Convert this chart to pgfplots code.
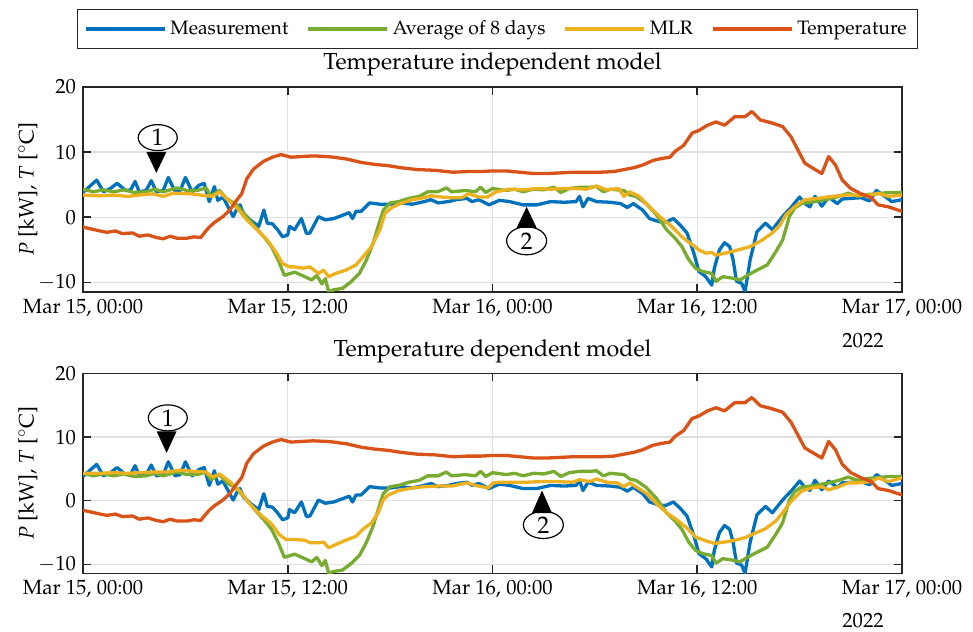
\documentclass[border=0pt]{standalone}
\usepackage[T1]{fontenc}
\usepackage{mathpazo}
\usepackage{pgfplots}
\usepackage{pgfplotstable}
\pgfplotsset{compat=1.18}

\definecolor{mblue}{RGB}{0,114,189}
\definecolor{mred}{RGB}{217,83,25}
\definecolor{myellow}{RGB}{237,177,32}
\definecolor{mgreen}{RGB}{119,172,48}

% hours after Mar 15, 00:00 ; power in kW
\pgfplotstableread{
h y
0.0 3.8
0.8 5.7
1.2 3.9
1.6 4.4
2.0 5.2
2.5 4.1
2.8 4.2
3.05 5.5
3.3 3.9
3.7 4.1
4.0 5.6
4.3 3.9
4.7 4.1
5.0 6.1
5.4 3.9
5.7 4.1
6.0 6.1
6.4 3.9
6.8 4.9
7.1 5.2
7.4 2.4
7.7 4.7
7.9 2.6
8.2 3.1
8.5 1.6
8.8 0.1
9.0 1.2
9.2 1.9
9.4 0.6
9.8 -0.4
10.3 -1.4
10.6 1.1
10.8 -0.9
11.1 -1.0
11.4 -1.9
11.7 -3.0
12.0 -2.7
12.1 -1.4
12.4 -1.9
12.8 -0.2
13.1 -2.5
13.3 -2.4
13.8 0.1
14.2 -0.4
14.7 -0.2
15.3 0.4
15.6 0.7
15.8 -0.2
16.0 0.9
16.3 0.9
16.8 2.2
17.4 2.0
18.0 2.0
18.6 2.2
19.3 2.0
20.0 2.4
20.4 2.7
20.8 2.2
21.4 2.4
21.9 2.7
22.5 2.9
22.8 2.4
23.2 2.7
23.8 1.9
24.4 2.6
25.0 2.4
25.8 1.9
26.6 1.9
27.4 2.4
28.2 2.3
28.9 2.4
29.1 3.2
29.3 1.6
29.6 2.9
30.1 2.4
30.9 2.3
31.5 2.1
31.9 1.5
32.25 2.1
32.8 1.1
33.2 -0.2
33.8 -0.7
34.2 -0.7
34.6 -0.2
35.0 -1.2
35.4 -2.4
35.8 -5.5
36.1 -8.3
36.5 -9.1
36.85 -10.4
37.0 -7.8
37.3 -5.0
37.6 -3.9
37.9 -4.5
38.1 -6.5
38.3 -9.8
38.6 -10.1
38.8 -11.4
39.1 -6.5
39.5 -2.2
40.0 -0.9
40.4 -1.9
40.85 -0.4
41.1 0.4
41.5 1.5
42.0 3.1
42.3 2.1
42.6 1.6
42.9 3.2
43.3 1.7
43.7 3.1
44.2 2.1
44.5 2.8
45.05 2.9
45.6 3.0
46.1 2.5
46.5 4.1
47.0 3.2
47.4 2.4
48.0 2.7
}\measurement

\pgfplotstableread{
h y
0.0 4.3
0.6 3.9
1.2 4.2
1.8 3.9
2.4 4.2
3.0 3.8
3.7 3.9
4.2 4.3
4.7 3.9
5.5 4.5
6.1 4.1
6.7 4.1
7.2 4.5
7.5 3.3
8.0 4.1
8.4 2.9
9.0 1.9
9.5 0.4
10.0 -1.2
10.6 -3.0
11.05 -4.5
11.45 -6.6
11.8 -8.9
12.4 -8.4
13.0 -9.1
13.4 -9.6
13.7 -8.9
14.0 -10.2
14.2 -9.4
14.4 -11.4
14.7 -11.1
15.2 -10.9
15.7 -9.9
16.2 -8.6
16.6 -6.6
17.0 -4.0
17.3 -1.4
17.6 1.1
18.0 2.2
18.5 2.4
19.1 2.9
19.7 3.2
20.2 3.9
20.8 3.9
21.3 4.5
21.6 3.9
22.4 4.1
23.0 3.9
23.3 4.6
23.6 3.8
24.0 4.4
24.8 4.1
25.3 4.3
25.8 3.9
26.4 4.3
27.0 4.2
27.6 4.6
28.0 3.8
28.5 4.4
29.1 4.6
29.7 4.6
30.1 4.7
30.5 3.9
30.9 4.3
31.3 4.2
31.7 4.1
32.05 3.4
32.4 3.2
33.0 2.1
33.6 0.4
34.2 -1.9
34.7 -3.2
35.1 -4.5
35.5 -6.5
35.9 -7.8
36.3 -8.3
36.85 -8.6
37.1 -9.8
37.5 -9.1
38.0 -9.3
38.5 -9.6
39.0 -8.8
39.5 -8.1
40.1 -7.3
40.6 -5.3
41.0 -3.5
41.4 0.1
41.7 1.4
42.1 2.1
42.9 2.4
43.7 2.8
44.3 3.2
44.85 3.7
45.4 3.2
46.0 3.5
46.6 3.6
47.2 3.8
48.0 3.8
}\averageeight

% MLR, temperature independent
\pgfplotstableread{
h y
0.0 3.4
1.0 3.3
1.8 3.4
2.6 3.2
3.3 3.4
4.1 3.6
4.7 3.2
5.3 3.7
6.3 3.6
7.2 3.3
7.6 3.2
8.0 3.9
8.4 2.9
9.0 1.5
9.6 -0.4
10.2 -1.9
10.8 -3.5
11.35 -5.5
11.7 -7.1
12.1 -7.6
12.4 -7.6
12.9 -7.8
13.3 -7.6
13.8 -8.6
14.1 -8.1
14.4 -9.1
14.8 -8.6
15.4 -8.1
16.0 -7.3
16.4 -6.1
16.9 -4.5
17.4 -1.9
17.7 0.6
18.1 1.5
18.7 2.2
19.3 2.7
19.8 2.9
20.4 3.3
21.0 3.1
21.6 3.0
22.2 3.0
22.6 3.6
23.2 3.1
23.7 3.1
24.2 3.9
25.0 4.3
25.8 4.2
26.6 4.4
27.4 4.3
28.1 4.4
28.9 4.4
29.5 4.3
30.1 4.8
30.7 4.2
31.4 4.4
31.7 3.2
32.05 3.9
32.6 3.2
33.2 1.6
33.8 0.1
34.5 -1.4
35.1 -3.0
35.6 -4.0
36.1 -5.0
36.5 -5.5
36.85 -5.4
37.1 -5.8
37.8 -5.4
38.4 -5.0
39.1 -4.5
39.8 -3.5
40.4 -2.4
40.85 -1.2
41.2 0.4
41.7 1.6
42.3 2.7
43.1 2.9
43.9 3.2
44.7 3.4
45.4 3.4
46.2 3.4
46.6 3.7
47.2 3.2
48.0 3.4
}\mlrindep

% MLR, temperature dependent
\pgfplotstableread{
h y
0.0 4.3
1.0 4.3
1.8 4.4
2.6 4.3
3.3 4.4
4.1 4.5
4.9 4.5
5.7 4.8
6.5 4.6
7.2 4.5
7.6 3.7
8.0 4.2
8.6 3.0
9.2 1.5
9.8 -0.6
10.4 -2.2
11.0 -3.5
11.5 -5.3
11.9 -6.1
12.4 -6.1
13.0 -6.2
13.3 -6.6
13.8 -6.6
14.1 -6.5
14.4 -7.4
14.8 -6.9
15.4 -6.2
16.0 -5.6
16.4 -4.5
16.9 -3.5
17.3 -1.9
17.6 0.15
17.9 0.9
18.5 1.6
19.3 2.0
20.0 2.2
20.8 2.3
21.6 2.3
22.5 2.8
23.0 2.4
23.75 2.0
24.05 2.8
24.4 2.9
25.2 2.9
26.0 2.9
26.8 3.0
27.75 3.0
28.7 2.9
29.1 3.3
29.7 3.0
30.1 3.4
30.7 2.9
31.3 2.8
31.7 2.2
32.05 2.8
32.4 2.2
33.0 1.2
33.6 -0.4
34.2 -1.9
34.8 -3.0
35.4 -4.3
35.9 -5.7
36.5 -6.3
37.0 -6.7
37.6 -6.5
38.2 -6.2
38.8 -5.8
39.4 -5.1
40.0 -4.4
40.6 -3.2
41.0 -1.9
41.5 -0.1
42.1 1.5
42.7 2.0
43.3 2.2
43.7 1.7
44.3 2.2
44.85 2.8
45.4 2.8
46.2 3.0
46.6 3.6
47.2 3.0
48.0 3.6
}\mlrdep

% outdoor temperature in degC
\pgfplotstableread{
h y
0.0 -1.5
1.0 -2.1
1.4 -2.3
1.9 -2.1
2.3 -2.5
2.9 -2.4
3.3 -2.9
3.8 -2.7
4.3 -3.1
4.7 -3.3
5.1 -2.9
5.5 -3.2
6.1 -3.2
6.5 -3.0
6.9 -3.1
7.2 -2.1
7.4 -1.5
7.7 -0.8
8.2 0.1
8.6 1.1
9.0 2.6
9.3 3.6
9.6 5.9
10.0 7.4
10.6 8.6
11.1 9.2
11.6 9.6
12.2 9.2
12.8 9.3
13.5 9.4
14.3 9.3
14.7 9.2
15.5 8.9
16.3 8.4
17.1 8.1
17.9 7.9
18.6 7.6
19.6 7.3
20.6 7.2
21.7 6.9
22.5 7.0
23.3 7.0
24.0 7.1
24.8 7.1
25.6 6.9
26.4 6.7
27.2 6.7
28.0 6.8
28.7 6.9
29.5 6.9
30.3 6.9
31.1 7.0
31.7 7.3
32.3 7.6
32.8 8.0
33.4 8.7
33.9 9.0
34.4 9.2
34.7 10.1
35.2 11.0
35.7 12.9
36.1 13.3
36.6 14.1
37.1 14.6
37.6 14.1
38.2 15.4
38.8 15.4
39.2 16.2
39.7 14.9
40.3 14.5
41.0 13.9
41.5 12.3
41.9 10.3
42.3 8.3
42.6 7.8
43.3 6.7
43.7 9.3
44.1 8.0
44.5 5.7
45.0 4.4
45.6 3.6
46.2 3.0
46.6 1.9
47.2 1.6
48.0 0.9
}\temperature

\tikzset{callout/.style={black, line width=0.6pt, fill=white}}

\pgfplotsset{
  loadaxis/.style={
    scale only axis, width=409.5pt,
    xmin=0, xmax=48, ymin=-11.4, ymax=20,
    xtick={0,12,24,36,48},
    xticklabels={{Mar 15, 00:00},{Mar 15, 12:00},{Mar 16, 00:00},{Mar 16, 12:00},{Mar 17, 00:00}},
    ytick={-10,0,10,20},
    tick align=inside, major tick length=4pt,
    tick style={color=black!85, line width=0.8pt},
    axis line style={color=black!85, line width=0.8pt},
    grid=major, major grid style={color=black!12, line width=0.6pt},
    tick label style={font=\fontsize{10.3}{12}\selectfont},
    ylabel={$P$ [kW], $T$ [$^\circ$C]},
    every axis y label/.style={at={(axis description cs:-0.0672,0.5)}, rotate=90, anchor=center,
      font=\fontsize{10.5}{12}\selectfont},
    every axis title shift=0pt,
    title style={font=\fontsize{11.6}{14}\selectfont, anchor=base,
      at={(axis description cs:0.5,1)}},
    every axis plot/.append style={line width=1.65pt, line join=round},
    clip mode=individual,
  },
}

\begin{document}
\begin{tikzpicture}
\path[use as bounding box] (0,0) rectangle (486.5pt,-315.5pt);

\begin{axis}[loadaxis, name=top, height=102.5pt,
  at={(41.5pt,-43.35pt)}, anchor=north west,
  title={Temperature independent model},
  title style={yshift=8.8pt},
  legend columns=4,
  legend image code/.code={\draw[#1] (0pt,0pt) -- (39.5pt,0pt);},
  legend style={at={(0.506,1.281)}, anchor=center, draw=black!85, line width=0.5pt,
    font=\fontsize{9.7}{11}\selectfont, inner xsep=3.5pt, inner ysep=3.5pt,
    /tikz/every even column/.append style={column sep=7pt}},
]
\addplot[mblue] table[x=h, y=y] {\measurement};
\addlegendentry{Measurement}
\addplot[mgreen] table[x=h, y=y] {\averageeight};
\addlegendentry{Average of 8 days}
\addplot[myellow] table[x=h, y=y] {\mlrindep};
\addlegendentry{MLR}
\addplot[mred] table[x=h, y=y] {\temperature};
\addlegendentry{Temperature}

\draw[callout] (axis cs:4.38,12.2) ellipse [x radius=9.75pt, y radius=6.5pt];
\node[font=\fontsize{12}{13}\selectfont] at (axis cs:4.38,12.2) {1};
\fill[black] (axis cs:4.3,6.8) -- ([shift={(-5pt,10.5pt)}]axis cs:4.3,6.8)
  -- ([shift={(5pt,10.5pt)}]axis cs:4.3,6.8) -- cycle;

\draw[callout] (axis cs:26.0,-3.6) ellipse [x radius=10pt, y radius=7pt];
\node[font=\fontsize{12}{13}\selectfont] at (axis cs:26.0,-3.6) {2};
\fill[black] (axis cs:26.0,1.6) -- ([shift={(-5pt,-10.5pt)}]axis cs:26.0,1.6)
  -- ([shift={(5pt,-10.5pt)}]axis cs:26.0,1.6) -- cycle;
\end{axis}
\node[anchor=base, font=\fontsize{10.3}{12}\selectfont] at ([shift={(390pt,-28pt)}]top.south west) {2022};

\begin{axis}[loadaxis, name=bottom, height=100pt,
  at={(41.5pt,-186.65pt)}, anchor=north west,
  title={Temperature dependent model},
  title style={yshift=8.3pt},
]
\addplot[mblue] table[x=h, y=y] {\measurement};
\addplot[mgreen] table[x=h, y=y] {\averageeight};
\addplot[myellow] table[x=h, y=y] {\mlrdep};
\addplot[mred] table[x=h, y=y] {\temperature};

\draw[callout] (axis cs:4.97,13.0) ellipse [x radius=9.75pt, y radius=6.5pt];
\node[font=\fontsize{12}{13}\selectfont] at (axis cs:4.97,13.0) {1};
\fill[black] (axis cs:4.9,7.5) -- ([shift={(-5pt,10.8pt)}]axis cs:4.9,7.5)
  -- ([shift={(5pt,10.8pt)}]axis cs:4.9,7.5) -- cycle;

\draw[callout] (axis cs:26.98,-3.8) ellipse [x radius=10pt, y radius=6.8pt];
\node[font=\fontsize{12}{13}\selectfont] at (axis cs:26.98,-3.8) {2};
\fill[black] (axis cs:26.9,1.6) -- ([shift={(-5pt,-11.3pt)}]axis cs:26.9,1.6)
  -- ([shift={(5pt,-11.3pt)}]axis cs:26.9,1.6) -- cycle;
\end{axis}
\node[anchor=base, font=\fontsize{10.3}{12}\selectfont] at ([shift={(390pt,-27.3pt)}]bottom.south west) {2022};
\end{tikzpicture}
\end{document}
